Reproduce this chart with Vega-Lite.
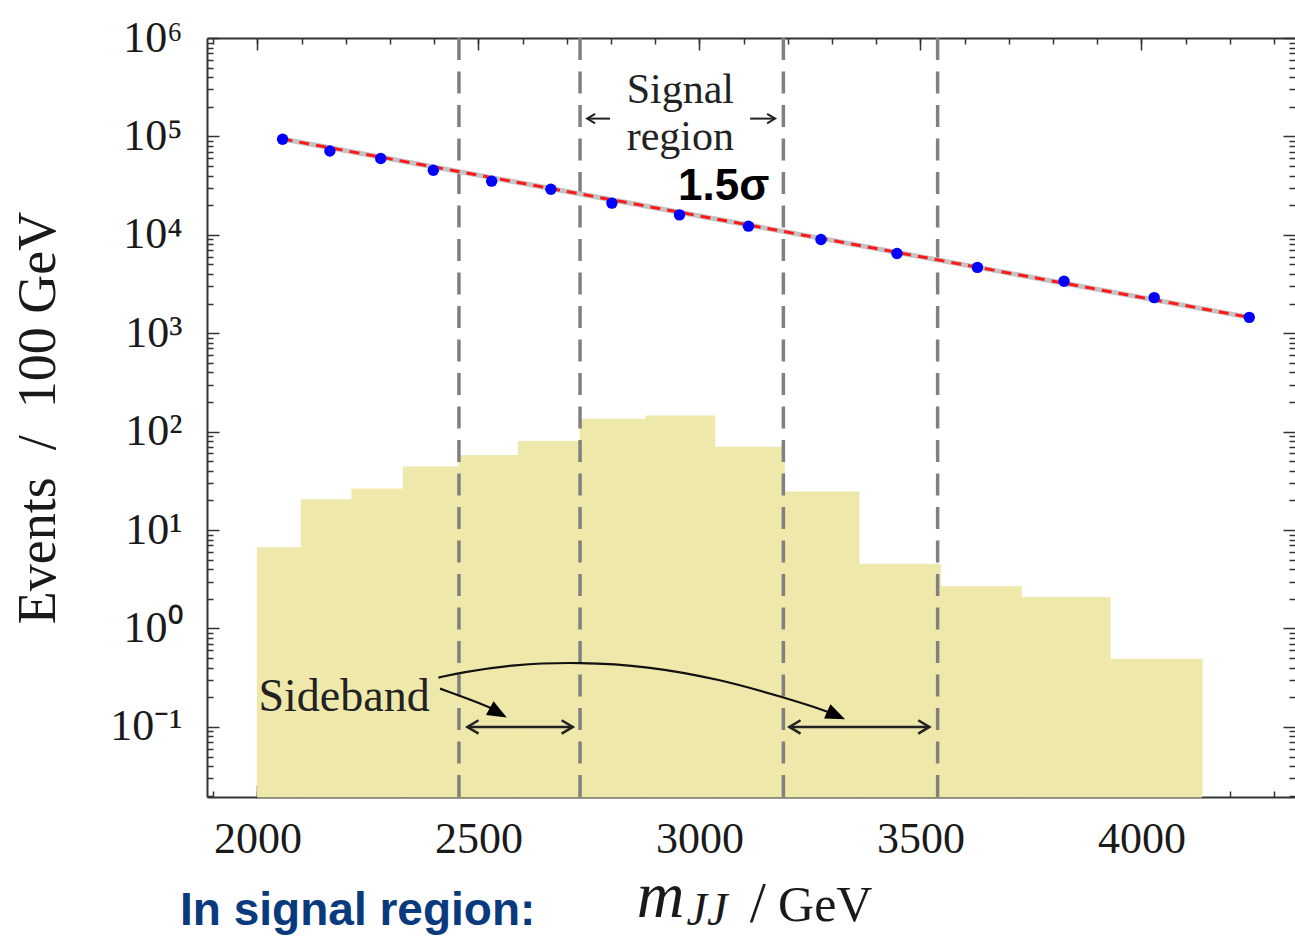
{
"$schema":"https://vega.github.io/schema/vega-lite/v6.json",
"width":1088,"height":759,
"autosize":{"type":"none"},
"padding":{"left":207,"top":38,"right":0,"bottom":142},
"background":"white",
"config":{"view":{"stroke":null},"axis":{"grid":false,"labelFont":"Liberation Serif","titleFont":"Liberation Serif","labelColor":"#1a1a1a","titleColor":"#1a1a1a","tickColor":"#333333","domainColor":"#333333","tickWidth":1.5,"domainWidth":2,"labelOverlap":false,"labelFlush":false,"labelBound":false}},
"resolve":{"axis":{"x":"independent","y":"independent"}},
"layer":[
{"data":{"values":[
{"lo":2000,"hi":2099,"n":6.6},{"lo":2099,"hi":2214,"n":20.3},{"lo":2214,"hi":2330,"n":26.1},{"lo":2330,"hi":2456,"n":43.8},{"lo":2456,"hi":2590,"n":57.1},{"lo":2590,"hi":2730,"n":79.6},{"lo":2730,"hi":2879,"n":133.6},{"lo":2879,"hi":3035,"n":144.3},{"lo":3035,"hi":3192,"n":69.5},{"lo":3192,"hi":3361,"n":24.4},{"lo":3361,"hi":3545,"n":4.5},{"lo":3545,"hi":3728,"n":2.66},{"lo":3728,"hi":3929,"n":2.07},{"lo":3929,"hi":4137,"n":0.486}]},
 "mark":{"type":"rect","color":"#EEE8AA","stroke":"#EEE8AA","strokeWidth":1},
 "encoding":{
  "x":{"field":"lo","type":"quantitative","scale":{"domain":[1886,4347.5],"nice":false,"zero":false},
       "axis":{"orient":"bottom","values":[2000,2500,3000,3500,4000],"tickSize":-12,"labelFontSize":44,"labelPadding":32,"labelExpr":"format(datum.value,'d')","title":null}},
  "x2":{"field":"hi"},
  "y":{"field":"n","type":"quantitative","scale":{"type":"log","domain":[0.0194,1000000],"nice":false},
       "axis":{"orient":"left","values":[0.1,1,10,100,1000,10000,100000,1000000],"tickSize":-12,"labelFontSize":44,"labelPadding":37,
               "labelExpr":"['10⁻¹','10⁰','10¹','10²','10³','10⁴','10⁵','10⁶'][round(log(datum.value)/LN10)+1]",
               "title":"Events \u00a0/\u00a0 100 GeV","titleFontSize":54,"titleFontWeight":"normal","titlePadding":44}},
  "y2":{"datum":0.0194}
 }},
{"data":{"values":[{"m":2456},{"m":2730},{"m":3190},{"m":3539}]},
 "mark":{"type":"rule","color":"#808080","strokeWidth":3.5,"strokeDash":[22,11.5]},
 "encoding":{"x":{"field":"m","type":"quantitative",
   "axis":{"orient":"bottom","values":[1900,2000,2100,2200,2300,2400,2500,2600,2700,2800,2900,3000,3100,3200,3300,3400,3500,3600,3700,3800,3900,4000,4100,4200,4300],"tickSize":-6,"labels":false,"domain":false,"title":null}}}},
{"data":{"values":[{"x":2057,"y":94000},{"x":4244,"y":1450}]},
 "mark":{"type":"line","color":"#c4c4c4","strokeWidth":5},
 "encoding":{
  "x":{"field":"x","type":"quantitative","axis":{"orient":"top","values":[2000,2500,3000,3500,4000],"tickSize":-12,"labels":false,"title":null}},
  "y":{"field":"y","type":"quantitative","axis":{"orient":"left","values":[0.02,0.03,0.04,0.05,0.06,0.07,0.08,0.09,0.2,0.3,0.4,0.5,0.6,0.7,0.8,0.9,2,3,4,5,6,7,8,9,20,30,40,50,60,70,80,90,200,300,400,500,600,700,800,900,2000,3000,4000,5000,6000,7000,8000,9000,20000,30000,40000,50000,60000,70000,80000,90000,200000,300000,400000,500000,600000,700000,800000,900000],"tickSize":-6,"labels":false,"domain":false,"title":null}}}},
{"data":{"values":[{"x":2057,"y":94000},{"x":4244,"y":1450}]},
 "mark":{"type":"line","color":"#ff1a1a","strokeWidth":3,"strokeDash":[10,7]},
 "encoding":{
  "x":{"field":"x","type":"quantitative","axis":{"orient":"top","values":[1900,2000,2100,2200,2300,2400,2500,2600,2700,2800,2900,3000,3100,3200,3300,3400,3500,3600,3700,3800,3900,4000,4100,4200,4300],"tickSize":-6,"labels":false,"domain":false,"title":null}},
  "y":{"field":"y","type":"quantitative","axis":{"orient":"right","values":[0.1,1,10,100,1000,10000,100000,1000000],"tickSize":-12,"labels":false,"domain":false,"title":null}}}},
{"data":{"values":[
{"x":2057,"y":93600},{"x":2164,"y":71100},{"x":2279,"y":59600},{"x":2398,"y":45300},{"x":2530,"y":35100},{"x":2664,"y":29100},{"x":2802,"y":21000},{"x":2955,"y":15960},{"x":3111,"y":12250},{"x":3275,"y":8970},{"x":3447,"y":6470},{"x":3629,"y":4670},{"x":3825,"y":3370},{"x":4029,"y":2300},{"x":4244,"y":1450}]},
 "mark":{"type":"circle","color":"#0000ff","size":130,"opacity":1},
 "encoding":{
  "x":{"field":"x","type":"quantitative","axis":null},
  "y":{"field":"y","type":"quantitative","axis":{"orient":"right","values":[0.02,0.03,0.04,0.05,0.06,0.07,0.08,0.09,0.2,0.3,0.4,0.5,0.6,0.7,0.8,0.9,2,3,4,5,6,7,8,9,20,30,40,50,60,70,80,90,200,300,400,500,600,700,800,900,2000,3000,4000,5000,6000,7000,8000,9000,20000,30000,40000,50000,60000,70000,80000,90000,200000,300000,400000,500000,600000,700000,800000,900000],"tickSize":-6,"labels":false,"domain":false,"title":null}}}},
{"data":{"values":[
{"a":1,"x":2409.5,"y":0.317},{"a":1,"x":2458.6,"y":0.356},{"a":1,"x":2578.5,"y":0.433},{"a":1,"x":2730.1,"y":0.456},{"a":1,"x":2881,"y":0.416},{"a":1,"x":3047.3,"y":0.305},{"a":1,"x":3189.8,"y":0.2},{"a":1,"x":3288.2,"y":0.145},{"a":1,"x":3318.3,"y":0.1267},
{"a":2,"x":2413.3,"y":0.245},{"a":2,"x":2510.6,"y":0.17},{"a":2,"x":2549,"y":0.141}]},
 "mark":{"type":"line","color":"#111111","strokeWidth":2.2,"interpolate":"basis"},
 "encoding":{"x":{"field":"x","type":"quantitative","axis":null},"y":{"field":"y","type":"quantitative","axis":null},"detail":{"field":"a"}}},
{"data":{"values":[{"x":3329.6,"y":0.1196}]},
 "mark":{"type":"point","shape":"M0,0L-2,-0.8L-2,0.8Z","filled":true,"color":"#000000","size":380,"angle":24,"opacity":1},
 "encoding":{"x":{"field":"x","type":"quantitative","axis":null},"y":{"field":"y","type":"quantitative","axis":null}}},
{"data":{"values":[{"x":2564.3,"y":0.1245}]},
 "mark":{"type":"point","shape":"M0,0L-2,-0.8L-2,0.8Z","filled":true,"color":"#000000","size":380,"angle":29,"opacity":1},
 "encoding":{"x":{"field":"x","type":"quantitative","axis":null},"y":{"field":"y","type":"quantitative","axis":null}}},
{"data":{"values":[{"a":1,"x":2475.1,"y":0.1},{"a":1,"x":2713.6,"y":0.1},{"a":2,"x":3203.6,"y":0.1},{"a":2,"x":3520.4,"y":0.1}]},
 "mark":{"type":"line","color":"#222222","strokeWidth":2.5},
 "encoding":{"x":{"field":"x","type":"quantitative","axis":null},"y":{"field":"y","type":"quantitative","axis":null},"detail":{"field":"a"}}},
{"data":{"values":[{"x":2475.1,"y":0.1,"dir":"l"},{"x":2713.6,"y":0.1,"dir":"r"},{"x":3203.6,"y":0.1,"dir":"l"},{"x":3520.4,"y":0.1,"dir":"r"}]},
 "mark":{"type":"point","filled":false,"color":"#222222","strokeWidth":2.5,"size":500,"opacity":1},
 "encoding":{"x":{"field":"x","type":"quantitative","axis":null},"y":{"field":"y","type":"quantitative","axis":null},
   "shape":{"field":"dir","type":"nominal","scale":{"domain":["l","r"],"range":["M1,-0.6L0,0L1,0.6","M-1,-0.6L0,0L-1,0.6"]},"legend":null}}},
{"data":{"values":[{"a":1,"x":2746,"y":151700},{"a":1,"x":2798,"y":151700},{"a":2,"x":3114.7,"y":151700},{"a":2,"x":3171.3,"y":151700}]},
 "mark":{"type":"line","color":"#222222","strokeWidth":2},
 "encoding":{"x":{"field":"x","type":"quantitative","axis":null},"y":{"field":"y","type":"quantitative","axis":null},"detail":{"field":"a"}}},
{"data":{"values":[{"x":2746,"y":151700,"dir":"l"},{"x":3171.3,"y":151700,"dir":"r"}]},
 "mark":{"type":"point","filled":false,"color":"#222222","strokeWidth":2,"size":256,"opacity":1},
 "encoding":{"x":{"field":"x","type":"quantitative","axis":null},"y":{"field":"y","type":"quantitative","axis":null},
   "shape":{"field":"dir","type":"nominal","scale":{"domain":["l","r"],"range":["M1,-0.6L0,0L1,0.6","M-1,-0.6L0,0L-1,0.6"]},"legend":null}}},
{"data":{"values":[{"t":"Signal"}]},
 "mark":{"type":"text","font":"Liberation Serif","fontSize":42,"color":"#222222","align":"center","baseline":"alphabetic"},
 "encoding":{"x":{"datum":2956.8,"type":"quantitative","axis":null},"y":{"datum":216700,"type":"quantitative","axis":null},"text":{"field":"t"}}},
{"data":{"values":[{"t":"region"}]},
 "mark":{"type":"text","font":"Liberation Serif","fontSize":42,"color":"#222222","align":"center","baseline":"alphabetic"},
 "encoding":{"x":{"datum":2956.8,"type":"quantitative","axis":null},"y":{"datum":72300,"type":"quantitative","axis":null},"text":{"field":"t"}}},
{"data":{"values":[{"t":"1.5σ"}]},
 "mark":{"type":"text","font":"Liberation Sans","fontWeight":"bold","fontSize":44,"color":"#000000","align":"center","baseline":"alphabetic"},
 "encoding":{"x":{"datum":3054.8,"type":"quantitative","axis":null},"y":{"datum":22500,"type":"quantitative","axis":null},"text":{"field":"t"}}},
{"data":{"values":[{"t":"Sideband"}]},
 "mark":{"type":"text","font":"Liberation Serif","fontSize":46,"color":"#222222","align":"center","baseline":"alphabetic"},
 "encoding":{"x":{"datum":2196,"type":"quantitative","axis":null},"y":{"datum":0.145,"type":"quantitative","axis":null},"text":{"field":"t"}}},
{"data":{"values":[{"t":"m"}]},
 "mark":{"type":"text","font":"Liberation Serif","fontStyle":"italic","fontSize":66,"color":"#1a1a1a","align":"left","baseline":"alphabetic"},
 "encoding":{"x":{"datum":2858,"type":"quantitative","axis":null},"y":{"datum":0.00118,"type":"quantitative","axis":null},"text":{"field":"t"}}},
{"data":{"values":[{"t":"JJ"}]},
 "mark":{"type":"text","font":"Liberation Serif","fontStyle":"italic","fontSize":46,"color":"#1a1a1a","align":"left","baseline":"alphabetic"},
 "encoding":{"x":{"datum":2971,"type":"quantitative","axis":null},"y":{"datum":0.00097,"type":"quantitative","axis":null},"text":{"field":"t"}}},
{"data":{"values":[{"t":"/"}]},
 "mark":{"type":"text","font":"Liberation Serif","fontSize":58,"color":"#1a1a1a","align":"center","baseline":"alphabetic"},
 "encoding":{"x":{"datum":3132,"type":"quantitative","axis":null},"y":{"datum":0.00103,"type":"quantitative","axis":null},"text":{"field":"t"}}},
{"data":{"values":[{"t":"GeV"}]},
 "mark":{"type":"text","font":"Liberation Serif","fontSize":50,"color":"#1a1a1a","align":"left","baseline":"alphabetic"},
 "encoding":{"x":{"datum":3178,"type":"quantitative","axis":null},"y":{"datum":0.001069,"type":"quantitative","axis":null},"text":{"field":"t"}}},
{"data":{"values":[{"t":"In signal region:"}]},
 "mark":{"type":"text","font":"Liberation Sans","fontWeight":"bold","fontSize":46,"color":"#0a3a7e","align":"left","baseline":"alphabetic"},
 "encoding":{"x":{"datum":1825.1,"type":"quantitative","axis":null},"y":{"datum":0.00096,"type":"quantitative","axis":null},"text":{"field":"t"}}}
]
}
